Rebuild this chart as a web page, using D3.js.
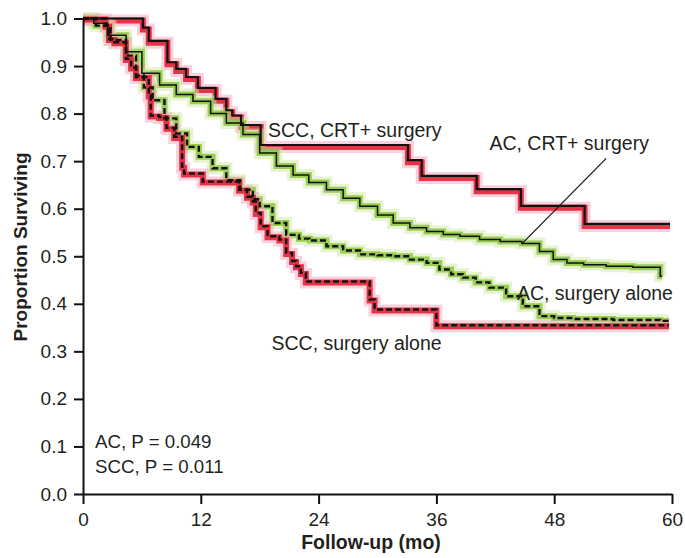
<!DOCTYPE html>
<html>
<head>
<meta charset="utf-8">
<script src="https://cdn.jsdelivr.net/npm/d3@7"></script>
<style>
    body { margin: 0; background: #fff; }
    svg text { font-family: "Liberation Sans", Arial, Helvetica, sans-serif; fill: #231f20; }
    .tick text { font-size: 19px; }
</style>
</head>
<body>
<svg id="chart" width="685" height="558"></svg>
<script>
// Kaplan-Meier estimates (months, proportion surviving)
var sccCrtMonths = [0, 6.1, 6.7, 8.6, 9.5, 10.5, 11.7, 13.5, 14.6, 15.2, 16.1, 18.1, 33.1, 34.5, 40.1, 44.6, 51.1, 59.8];
var sccCrtSurv   = [1.0, 0.981, 0.953, 0.908, 0.894, 0.877, 0.854, 0.831, 0.807, 0.796, 0.776, 0.734, 0.702, 0.669, 0.641, 0.606, 0.568, 0.568];

var acCrtMonths = [0, 1.1, 2.5, 4.4, 6.0, 7.8, 9.5, 11.2, 13.0, 14.6, 16.3, 18.0, 19.7, 21.4, 23.0, 24.8, 26.5, 28.2, 30.0, 31.6, 33.3, 35.0, 36.7, 38.4, 40.4, 42.5, 44.7, 46.5, 47.9, 49.3, 51.0, 53.3, 56.0, 58.8, 59.0];
var acCrtSurv   = [1.0, 0.99, 0.965, 0.93, 0.885, 0.86, 0.84, 0.826, 0.80, 0.78, 0.756, 0.717, 0.69, 0.671, 0.655, 0.64, 0.622, 0.605, 0.587, 0.57, 0.56, 0.552, 0.546, 0.542, 0.535, 0.531, 0.527, 0.51, 0.493, 0.486, 0.482, 0.479, 0.477, 0.458, 0.458];

var acSurgMonths = [0, 1.3, 2.8, 4.4, 5.4, 6.2, 7.1, 8.3, 9.5, 10.6, 11.8, 13.2, 14.6, 16.0, 17.3, 18.0, 19.3, 20.7, 22.0, 23.1, 24.8, 26.5, 28.2, 30.0, 31.6, 33.3, 35.0, 36.3, 37.5, 38.7, 40.0, 41.4, 43.1, 44.8, 46.5, 48.0, 49.9, 54.0, 58.8, 59.7];
var acSurgSurv   = [1.0, 0.985, 0.955, 0.922, 0.88, 0.855, 0.828, 0.79, 0.758, 0.73, 0.709, 0.685, 0.66, 0.64, 0.62, 0.605, 0.57, 0.545, 0.537, 0.533, 0.521, 0.512, 0.504, 0.502, 0.5, 0.493, 0.486, 0.472, 0.462, 0.455, 0.445, 0.434, 0.416, 0.395, 0.374, 0.37, 0.368, 0.366, 0.364, 0.364];

var sccSurgMonths = [0, 2.3, 2.65, 3.2, 4.36, 4.9, 5.4, 6.7, 6.9, 7.76, 8.5, 9.3, 10.1, 10.3, 12.2, 15.9, 16.7, 17.3, 17.6, 18.1, 18.8, 20.0, 20.7, 21.3, 21.7, 22.2, 22.7, 28.8, 29.2, 29.7, 36.0, 59.7];
var sccSurgSurv   = [1.0, 0.985, 0.957, 0.95, 0.915, 0.897, 0.877, 0.838, 0.796, 0.793, 0.77, 0.751, 0.688, 0.674, 0.657, 0.64, 0.625, 0.615, 0.591, 0.563, 0.542, 0.535, 0.507, 0.49, 0.479, 0.465, 0.447, 0.447, 0.409, 0.388, 0.355, 0.355];

var xTicks = [0, 12, 24, 36, 48, 60];
var yTicks = [0, 0.1, 0.2, 0.3, 0.4, 0.5, 0.6, 0.7, 0.8, 0.9, 1.0];

var curveLabels = ["SCC, CRT+ surgery", "AC, CRT+ surgery", "AC, surgery alone", "SCC, surgery alone"];
var pValueLabels = ["AC, P = 0.049", "SCC, P = 0.011"];

var svg = d3.select("#chart");

var x = d3.scaleLinear().domain([0, 60]).range([83, 672]);
var y = d3.scaleLinear().domain([0, 1]).range([494, 18.5]);

// series drawing styles
var series = [
    { months: sccCrtMonths,  surv: sccCrtSurv,  halo: "red",   dash: null,  width: 2.2, shift: 2 },
    { months: acCrtMonths,   surv: acCrtSurv,   halo: "green", dash: null,  width: 1.5, shift: 0 },
    { months: acSurgMonths,  surv: acSurgSurv,  halo: "green", dash: "6,3", width: 2.4, shift: 0 },
    { months: sccSurgMonths, surv: sccSurgSurv, halo: "red",   dash: "6,3", width: 2.4, shift: 1 }
];
var haloColors = {
    red:   { outer: "#f6a3b9", inner: "#e3172d" },
    green: { outer: "#cfe7a4", inner: "#8cc63f" }
};

var line = d3.line()
    .x(function (d) { return x(d[0]); })
    .y(function (d) { return y(d[1]); })
    .curve(d3.curveStepAfter);

// coloured halos under the curves
var halos = svg.append("g");
series.forEach(function (s) {
    var pts = d3.zip(s.months, s.surv);
    var g = halos.append("g").attr("transform", "translate(0," + s.shift + ")");
    g.append("path")
        .attr("d", line(pts))
        .attr("fill", "none")
        .attr("stroke", haloColors[s.halo].outer)
        .attr("stroke-width", 12)
        .attr("stroke-opacity", 0.5);
    g.append("path")
        .attr("d", line(pts))
        .attr("fill", "none")
        .attr("stroke", haloColors[s.halo].inner)
        .attr("stroke-width", 6)
        .attr("stroke-opacity", 0.85);
});

// black KM lines on top
series.forEach(function (s) {
    svg.append("path")
        .attr("d", line(d3.zip(s.months, s.surv)))
        .attr("fill", "none")
        .attr("stroke", "#111")
        .attr("stroke-width", s.width)
        .attr("stroke-dasharray", s.dash);
});

// axes
var xAxis = svg.append("g")
    .attr("transform", "translate(0,494)")
    .call(d3.axisBottom(x).tickValues(xTicks).tickSize(10).tickPadding(9).tickSizeOuter(0));
var yAxis = svg.append("g")
    .attr("transform", "translate(83,0)")
    .call(d3.axisLeft(y).tickValues(yTicks).tickFormat(d3.format(".1f")).tickSize(9).tickPadding(7).tickSizeOuter(0));

[xAxis, yAxis].forEach(function (a) {
    a.attr("font-size", null).attr("font-family", null);
    a.select(".domain").attr("stroke", "#111").attr("stroke-width", 2);
    a.selectAll(".tick line").attr("stroke", "#111").attr("stroke-width", 2);
    a.selectAll(".tick text").style("font-size", "19px").attr("fill", "#231f20");
});

// axis titles
svg.append("text")
    .attr("x", 371)
    .attr("y", 549)
    .attr("text-anchor", "middle")
    .style("font-size", "19.5px")
    .attr("font-weight", "bold")
    .text("Follow-up (mo)");

svg.append("text")
    .attr("transform", "translate(27,247) rotate(-90)")
    .attr("text-anchor", "middle")
    .style("font-size", "19px")
    .attr("font-weight", "bold")
    .text("Proportion Surviving");

// curve labels (placed in data units)
var labelPos = [[18.85, 0.751], [41.4, 0.723], [44.2, 0.408], [19.2, 0.303]];
curveLabels.forEach(function (t, i) {
    svg.append("text")
        .attr("x", x(labelPos[i][0]))
        .attr("y", y(labelPos[i][1]))
        .style("font-size", "19.5px")
        .text(t);
});

// leader line for AC, CRT+ surgery
svg.append("line")
    .attr("x1", x(44.7)).attr("y1", y(0.526))
    .attr("x2", x(53.3)).attr("y2", y(0.706))
    .attr("stroke", "#111")
    .attr("stroke-width", 1.2);

// p values
pValueLabels.forEach(function (t, i) {
    svg.append("text")
        .attr("x", x(1.22))
        .attr("y", y(i === 0 ? 0.097 : 0.044))
        .style("font-size", "18.7px")
        .text(t);
});
</script>
</body>
</html>
